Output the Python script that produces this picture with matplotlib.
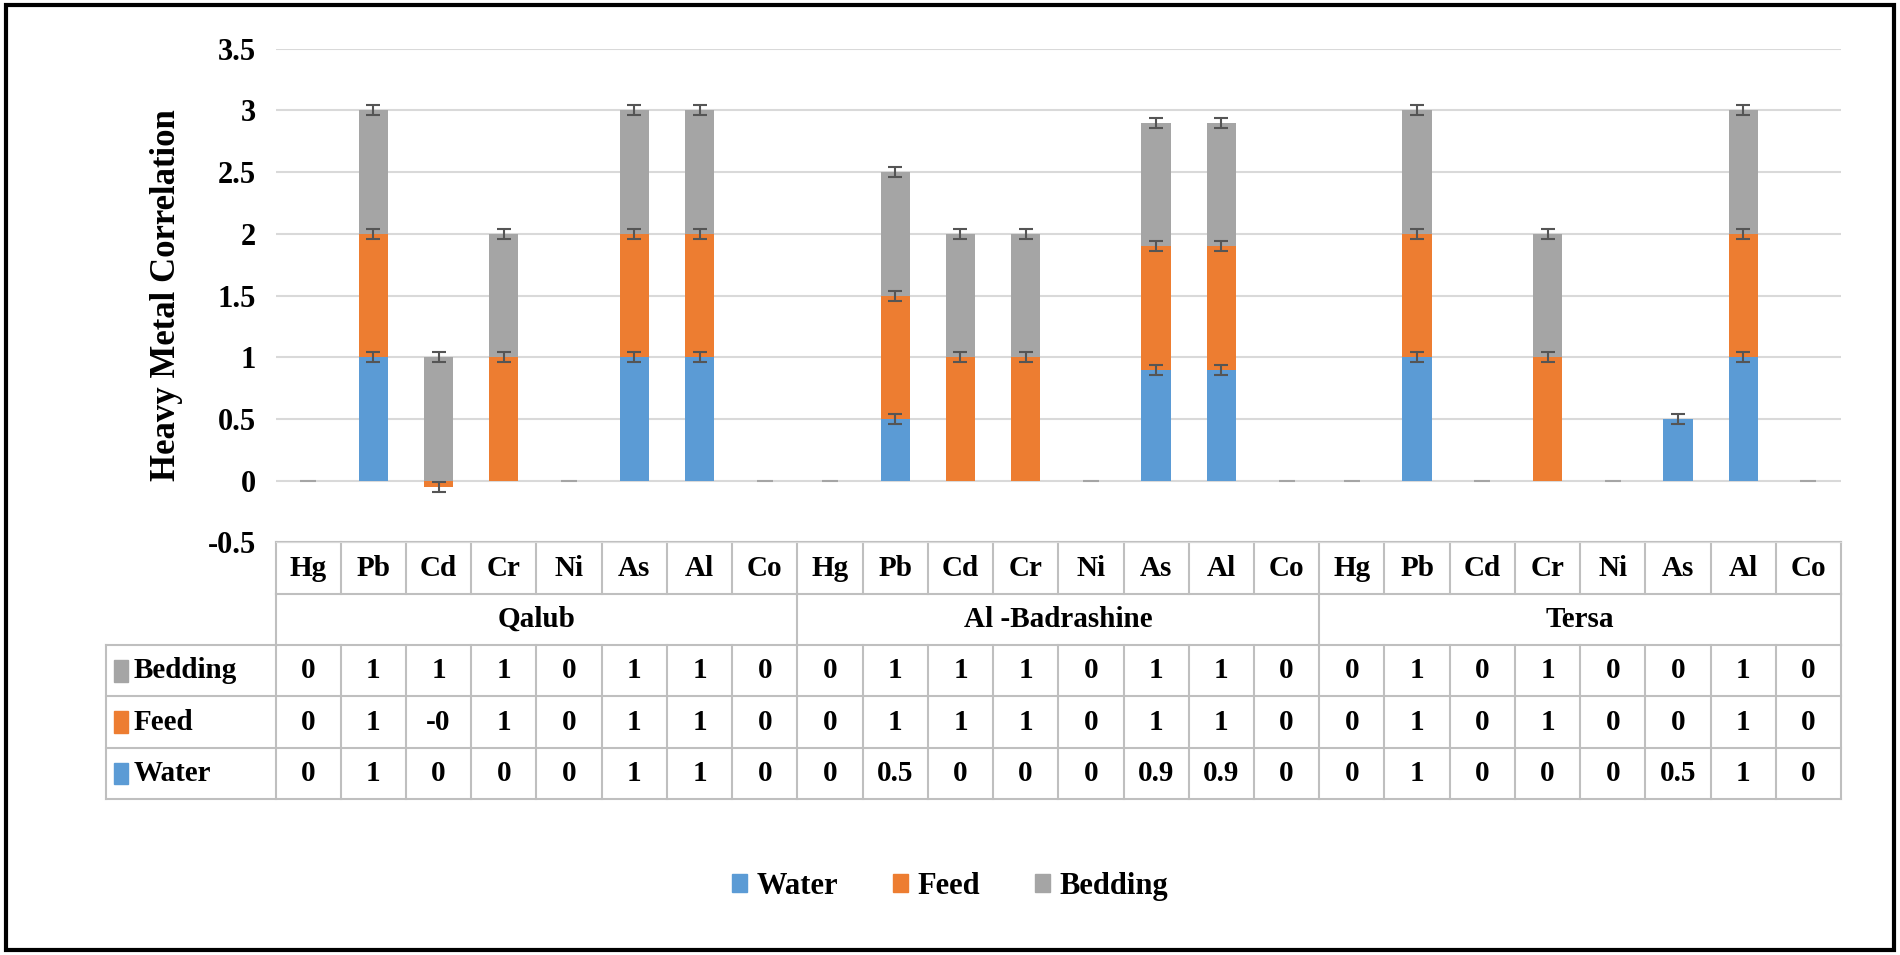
import numpy as np
import matplotlib.pyplot as plt
import matplotlib.transforms as mtransforms
from matplotlib.patches import Rectangle, Patch

plt.rcParams['font.family'] = ['Liberation Serif', 'DejaVu Serif']
plt.rcParams['font.weight'] = 'bold'
plt.rcParams['axes.labelweight'] = 'bold'

metals = ['Hg', 'Pb', 'Cd', 'Cr', 'Ni', 'As', 'Al', 'Co']
sites = ['Qalub', 'Al -Badrashine', 'Tersa']
water = [0, 1, 0, 0, 0, 1, 1, 0,
         0, 0.5, 0, 0, 0, 0.9, 0.9, 0,
         0, 1, 0, 0, 0, 0.5, 1, 0]
feed = [0, 1, -0.05, 1, 0, 1, 1, 0,
        0, 1, 1, 1, 0, 1, 1, 0,
        0, 1, 0, 1, 0, 0, 1, 0]
bedding = [0, 1, 1, 1, 0, 1, 1, 0,
           0, 1, 1, 1, 0, 1, 1, 0,
           0, 1, 0, 1, 0, 0, 1, 0]
water_lbl = ['0', '1', '0', '0', '0', '1', '1', '0',
             '0', '0.5', '0', '0', '0', '0.9', '0.9', '0',
             '0', '1', '0', '0', '0', '0.5', '1', '0']
feed_lbl = ['0', '1', '-0', '1', '0', '1', '1', '0',
            '0', '1', '1', '1', '0', '1', '1', '0',
            '0', '1', '0', '1', '0', '0', '1', '0']
bed_lbl = ['0', '1', '1', '1', '0', '1', '1', '0',
           '0', '1', '1', '1', '0', '1', '1', '0',
           '0', '1', '0', '1', '0', '0', '1', '0']

c_water, c_feed, c_bed = '#5B9BD5', '#ED7D31', '#A5A5A5'
err = 0.04

fig = plt.figure(figsize=(19, 9.55), dpi=100)
ax = fig.add_axes([0.145, 0.432, 0.824, 0.517])
x = np.arange(len(water))
w = np.array(water)
f = np.array(feed)
b = np.array(bedding)

pos_base = np.zeros(len(x))
neg_base = np.zeros(len(x))
for vals, col in [(w, c_water), (f, c_feed), (b, c_bed)]:
    bottom = np.where(vals >= 0, pos_base, neg_base)
    ax.bar(x, vals, 0.45, bottom=bottom, color=col, zorder=2)
    top = bottom + vals
    nz = vals != 0
    ax.errorbar(x[nz], top[nz], yerr=err, fmt='none', ecolor='#555555', elinewidth=1.5,
                capsize=5, capthick=1.5, zorder=3)
    pos_base = np.where(vals >= 0, top, pos_base)
    neg_base = np.where(vals < 0, top, neg_base)
# flat marks for the zero categories
zero = (w == 0) & (f == 0) & (b == 0)
ax.scatter(x[zero], np.zeros(zero.sum()), marker='_', s=120, color='#A5A5A5', zorder=3)

ax.set_xlim(-0.5, 23.5)
ax.set_ylim(-0.5, 3.5)
ax.set_yticks(np.arange(-0.5, 3.6, 0.5))
ax.set_yticklabels(['-0.5', '0', '0.5', '1', '1.5', '2', '2.5', '3', '3.5'], fontsize=22)
ax.yaxis.grid(True, color='#D9D9D9', linewidth=1.5, zorder=0)
ax.set_axisbelow(True)
ax.set_xticks([])
for s in ['top', 'right', 'left']:
    ax.spines[s].set_visible(False)
ax.spines['bottom'].set_color('#D9D9D9')
ax.tick_params(axis='y', length=0, pad=14)
ax.set_ylabel('Heavy Metal Correlation', fontsize=25, fontweight='bold', labelpad=18)

# data table below the axes
tr = mtransforms.blended_transform_factory(ax.transData, ax.transAxes)
rh = 0.104
lc = '#BFBFBF'
label_x = -0.5 - 140 / 1292 * 24
fs = 21
ys = [0 - rh * i for i in range(6)]
for i, yy in enumerate(ys):
    x0 = -0.5 if i < 2 else label_x
    ax.plot([x0, 23.5], [yy, yy], color=lc, lw=1.5, transform=tr, clip_on=False)
for k in range(25):
    xx = k - 0.5
    ax.plot([xx, xx], [ys[0], ys[1]], color=lc, lw=1.5, transform=tr, clip_on=False)
    ax.plot([xx, xx], [ys[2], ys[5]], color=lc, lw=1.5, transform=tr, clip_on=False)
    if k % 8 == 0:
        ax.plot([xx, xx], [ys[1], ys[2]], color=lc, lw=1.5, transform=tr, clip_on=False)
ax.plot([label_x, label_x], [ys[2], ys[5]], color=lc, lw=1.5, transform=tr, clip_on=False)

for i in range(24):
    ax.text(i, -rh * 0.5, metals[i % 8], ha='center', va='center', fontsize=fs, transform=tr)
for j, s in enumerate(sites):
    ax.text(j * 8 + 3.5, -rh * 1.5, s, ha='center', va='center', fontsize=fs, transform=tr)
rows = [('Bedding', bed_lbl, c_bed), ('Feed', feed_lbl, c_feed), ('Water', water_lbl, c_water)]
for r, (name, lbls, col) in enumerate(rows):
    yc = -rh * (2.5 + r)
    for i in range(24):
        ax.text(i, yc, lbls[i], ha='center', va='center', fontsize=fs, transform=tr)
    ax.add_patch(Rectangle((label_x + 0.12, yc - 0.022), 0.22, 0.044, color=col,
                           transform=tr, clip_on=False))
    ax.text(label_x + 0.42, yc, name, ha='left', va='center', fontsize=fs, transform=tr)

handles = [Patch(color=c_water, label='Water'), Patch(color=c_feed, label='Feed'),
           Patch(color=c_bed, label='Bedding')]
fig.legend(handles=handles, loc='center', bbox_to_anchor=(0.5, 0.072), ncol=3,
           frameon=False, fontsize=22, handlelength=0.5, handleheight=0.5,
           columnspacing=1.8, handletextpad=0.3)

fig.add_artist(Rectangle((0.003, 0.005), 0.994, 0.99, fill=False, edgecolor='black',
                         lw=3, transform=fig.transFigure))
fig.savefig('out.png', dpi=100)
